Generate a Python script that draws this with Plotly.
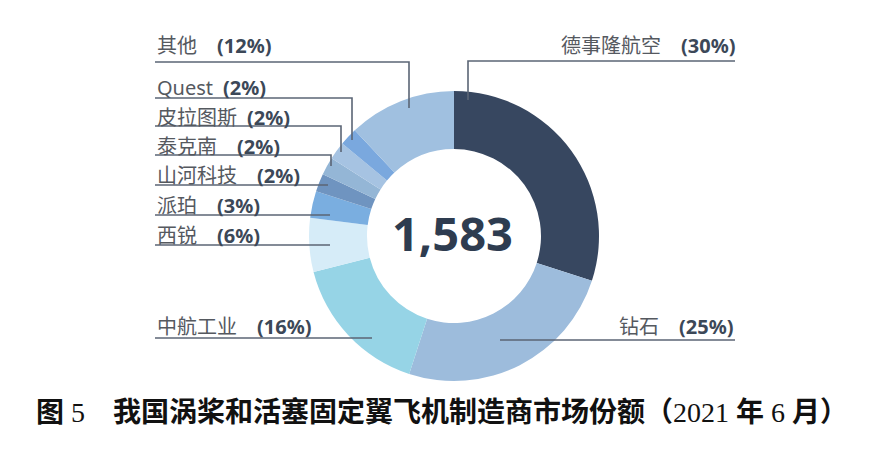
import plotly.graph_objects as go

# ---- data ----
makers = ["德事隆航空", "钻石", "中航工业", "西锐", "派珀", "山河科技", "泰克南", "皮拉图斯", "Quest", "其他"]
shares = [30, 25, 16, 6, 3, 2, 2, 2, 2, 12]
center_value = "1,583"
caption_parts = [("图", True), (" 5　", False), ("我国涡桨和活塞固定翼飞机制造商市场份额（", True),
                 ("2021", False), (" 年 ", True), ("6", False), (" 月）", True)]

# ---- styles ----
colors = ["#374760", "#9dbcdc", "#96d4e6", "#d6ecf8", "#7aaee0",
          "#6f94c0", "#94b6d6", "#a6c3e2", "#7aa8de", "#a0c0e0"]
W, H = 873, 450
OFF = 8  # page body margin of the html page
CX, CY, R = 454, 236, 145

def px(x):
    return (x - OFF) / W

def py(y):
    return 1 - (y - OFF) / H

# label layout (screen pixel positions): side, text anchor x, text centre y, leader polyline, gap
label_layout = {
    "德事隆航空": ("right", 737, 46, [(735, 61), (468, 61), (468, 100)], "\u3000"),
    "钻石":       ("right", 735, 326, [(735, 340), (500, 340)], "\u3000"),
    "中航工业":   ("left", 155, 326, [(155, 338), (372, 338)], "\u3000"),
    "西锐":       ("left", 155, 235, [(155, 245), (330, 245)], "\u3000"),
    "派珀":       ("left", 155, 205, [(155, 215), (330, 215)], "\u3000"),
    "山河科技":   ("left", 155, 175, [(155, 185), (328, 185)], "\u3000"),
    "泰克南":     ("left", 155, 146, [(155, 155), (331, 155), (331, 166)], "\u3000"),
    "皮拉图斯":   ("left", 155, 117, [(155, 126), (341, 126), (341, 152)], "\u2002"),
    "Quest":      ("left", 155, 87, [(155, 98), (352, 98), (352, 140)], "\u2002"),
    "其他":       ("left", 155, 46, [(155, 62), (409, 62), (409, 108)], "\u3000"),
}

fig = go.Figure()
fig.add_trace(go.Pie(
    labels=makers, values=shares, sort=False, direction="clockwise", rotation=0,
    hole=0.6, textinfo="none", hoverinfo="label+percent",
    marker=dict(colors=colors, line=dict(width=0)),
    domain=dict(x=[px(CX - R), px(CX + R)], y=[py(CY + R), py(CY - R)]),
    showlegend=False,
))

shapes = []
annotations = []
for name, val in zip(makers, shares):
    side, tx, ty, pts, gap = label_layout[name]
    path = "M " + " L ".join(f"{px(x)},{py(y)}" for x, y in pts)
    shapes.append(dict(type="path", xref="paper", yref="paper", path=path,
                       line=dict(color="#5b6575", width=1.6)))
    annotations.append(dict(
        xref="paper", yref="paper", x=px(tx), y=py(ty),
        xanchor="left" if side == "left" else "right", yanchor="middle",
        showarrow=False,
        text=f"<span style='color:#55595f'>{name}</span>{gap}<b>({val}%)</b>",
        font=dict(family="Noto Sans, Noto Sans CJK SC", size=20, color="#3c4858"),
    ))

annotations.append(dict(
    xref="paper", yref="paper", x=px(452), y=py(233), xanchor="center", yanchor="middle",
    showarrow=False, text=f"<b>{center_value}</b>",
    font=dict(family="Open Sans, Noto Sans", size=47, color="#2e3c50"),
))
caption_html = "".join(f"<b>{t}</b>" if bold else t for t, bold in caption_parts)
annotations.append(dict(
    xref="paper", yref="paper", x=px(442), y=py(412), xanchor="center", yanchor="middle",
    showarrow=False, text=caption_html,
    font=dict(family="Liberation Serif, Noto Sans CJK SC", size=28, color="#111111"),
))

fig.update_layout(
    width=W, height=H, margin=dict(l=0, r=0, t=0, b=0),
    paper_bgcolor="white", plot_bgcolor="white",
    shapes=shapes, annotations=annotations,
)
fig.write_html("out.html")
